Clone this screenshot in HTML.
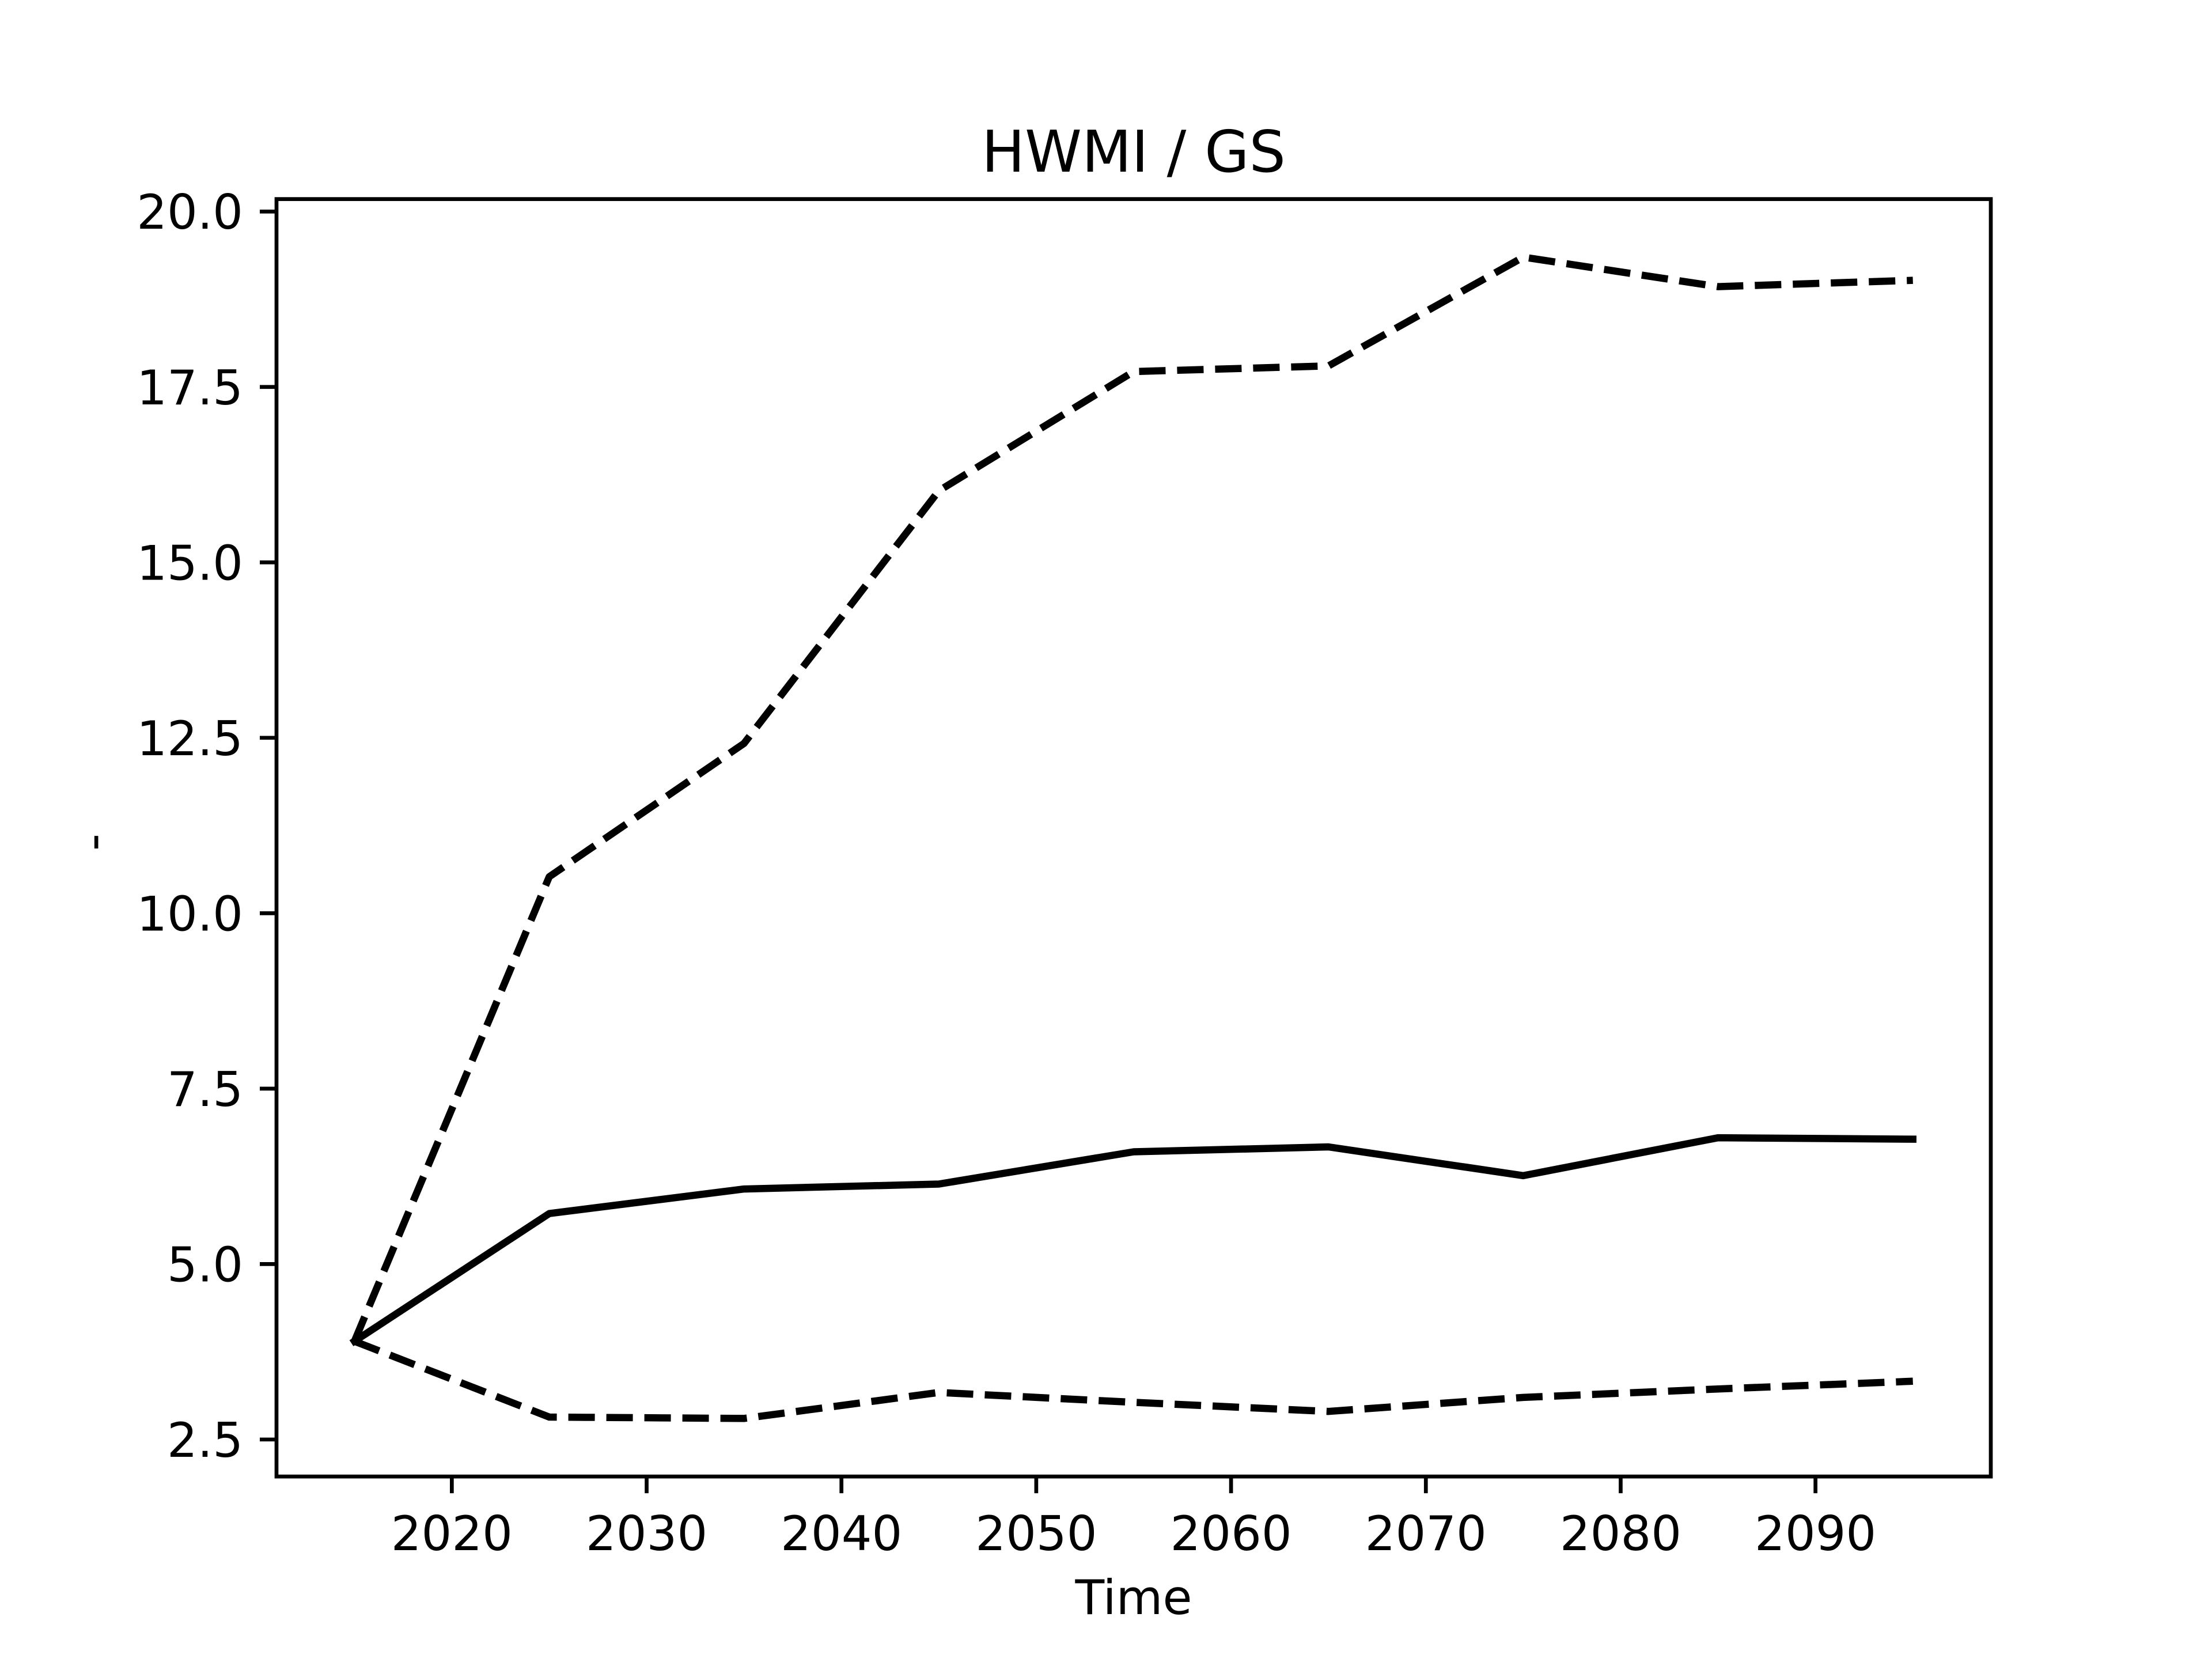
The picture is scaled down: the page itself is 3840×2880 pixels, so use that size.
<!DOCTYPE html>
<html><head><meta charset="utf-8"><style>
html,body{margin:0;padding:0;background:#fff}
svg{display:block}
text{font-family:"DejaVu Sans","Liberation Sans",sans-serif;fill:#000}
</style></head><body>
<svg id="chart" width="3840" height="2880" viewBox="0 0 3840 2880" xmlns="http://www.w3.org/2000/svg">
<rect width="3840" height="2880" fill="#fff"/>
<text x="1968" y="298" font-size="100" text-anchor="middle">HWMI / GS</text>
<text x="1968" y="2802" font-size="83" text-anchor="middle">Time</text>
<text x="0" y="0" font-size="83" text-anchor="middle" transform="translate(190,1462) rotate(-90)">-</text>
<g id="series"></g>
<g id="axes"></g>
</svg>
<script>
const years = [2015, 2025, 2035, 2045, 2055, 2065, 2075, 2085, 2095];
const meanVals = [3.9, 5.72, 6.07, 6.14, 6.6, 6.67, 6.26, 6.8, 6.78];
const upperVals = [3.9, 10.52, 12.42, 16.02, 17.72, 17.8, 19.35, 18.93, 19.02];
const lowerVals = [3.9, 2.82, 2.8, 3.17, 3.03, 2.9, 3.1, 3.22, 3.33];
const xTicks = [2020, 2030, 2040, 2050, 2060, 2070, 2080, 2090];
const yTicks = [2.5, 5.0, 7.5, 10.0, 12.5, 15.0, 17.5, 20.0];

const L = 480, R = 3456, T = 345.6, B = 2534.4;
const allV = meanVals.concat(upperVals, lowerVals);
const vmin = Math.min(...allV), vmax = Math.max(...allV);
const ymin = vmin - 0.05 * (vmax - vmin), ymax = vmax + 0.05 * (vmax - vmin);
const xmin0 = Math.min(...years), xmax0 = Math.max(...years);
const xmin = xmin0 - 0.05 * (xmax0 - xmin0), xmax = xmax0 + 0.05 * (xmax0 - xmin0);
const BB = 2563.2;
function xs(v){ return L + (v - xmin) / (xmax - xmin) * (R - L); }
function ys(v){ return BB - (v - ymin) / (ymax - ymin) * (BB - T); }

const NS = "http://www.w3.org/2000/svg";
const sg = document.getElementById('series');
const ag = document.getElementById('axes');
function mk(tag, attrs, parent){ const e = document.createElementNS(NS, tag); for (const k in attrs) e.setAttribute(k, attrs[k]); parent.appendChild(e); return e; }

function drawLine(vals, dashed, name){
  const d = years.map((y,i)=>(i?'L':'M') + xs(y).toFixed(1) + ' ' + ys(vals[i]).toFixed(1)).join(' ');
  const p = mk('path', {d:d, fill:'none', stroke:'#000', 'stroke-width':12.5, 'stroke-linejoin':'round', 'stroke-linecap':dashed?'butt':'square'}, sg);
  if (dashed) p.setAttribute('stroke-dasharray', '46 20');
  
  
}
drawLine(upperVals, true, 'upper-bound-line');
drawLine(lowerVals, true, 'lower-bound-line');
drawLine(meanVals, false, 'mean-line');

const frame = mk('rect', {x:L, y:T, width:R-L, height:BB-T, fill:'none', stroke:'#000', 'stroke-width':6.7}, ag);



xTicks.forEach(t=>{
  const x = xs(t);
  const tk = mk('line', {x1:x, x2:x, y1:BB, y2:BB+29, stroke:'#000', 'stroke-width':6.7}, ag);
  
  
  const tl = mk('text', {x:x, y:BB+128, 'font-size':83, 'text-anchor':'middle'}, ag);
  tl.textContent = String(t);
  
  
});
yTicks.forEach(t=>{
  const y = ys(t);
  const tk = mk('line', {x1:L-29, x2:L, y1:y, y2:y, stroke:'#000', 'stroke-width':6.7}, ag);
  
  
  const tl = mk('text', {x:L-58, y:y+30, 'font-size':83, 'text-anchor':'end'}, ag);
  tl.textContent = t.toFixed(1);
  
  
});
</script>
</body></html>
